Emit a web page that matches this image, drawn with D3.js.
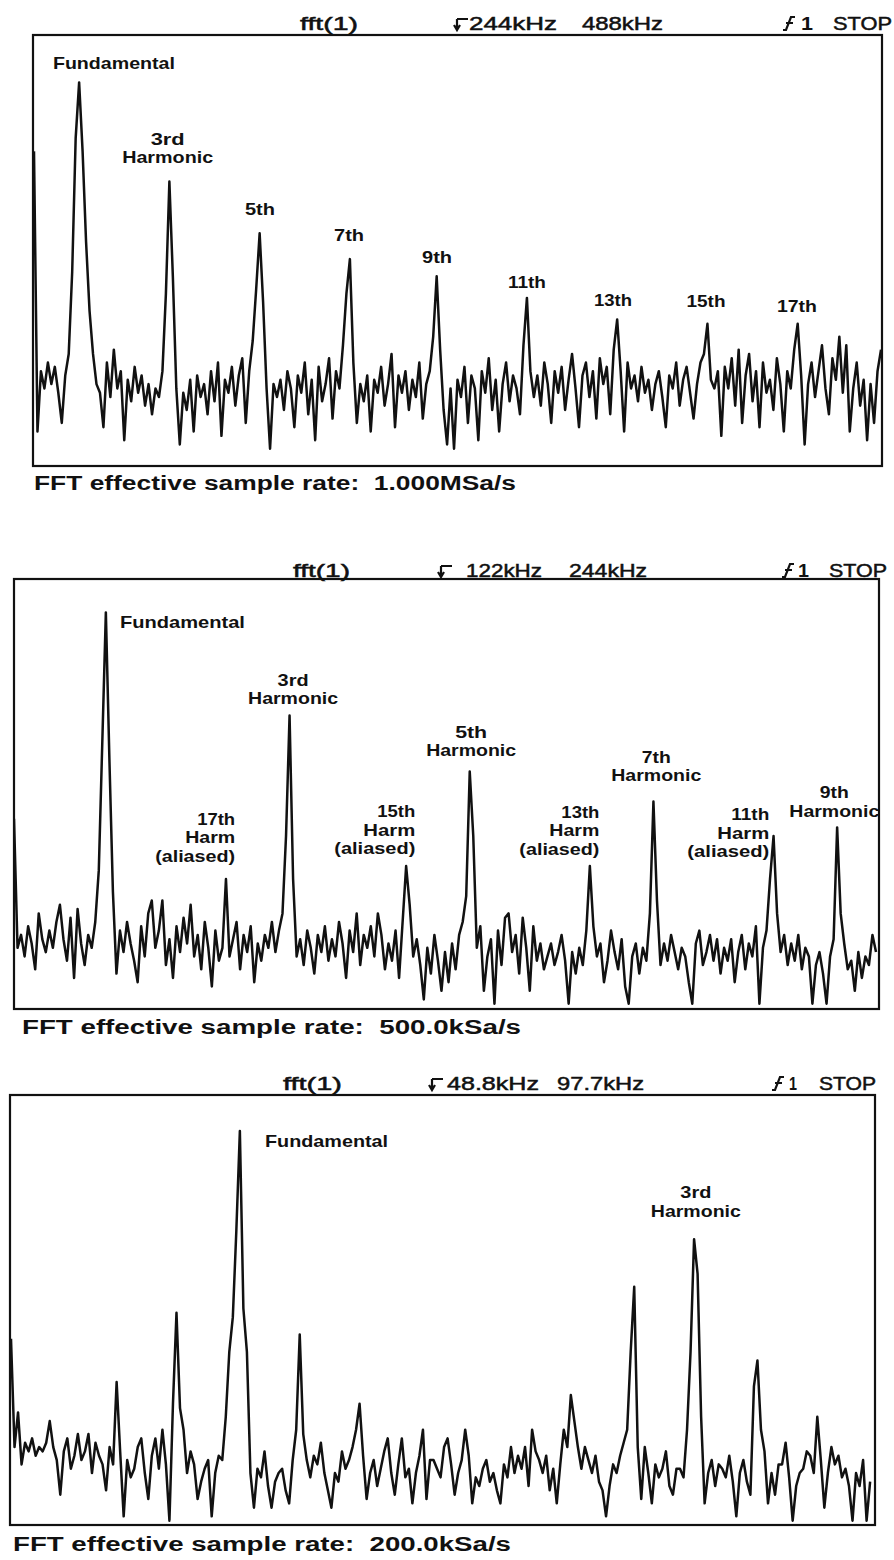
<!DOCTYPE html>
<html><head><meta charset="utf-8">
<script src="https://cdn.jsdelivr.net/npm/d3@7"></script>
<style>
html,body{margin:0;padding:0;background:#fff;}
svg{display:block;}
text{font-family:"Liberation Sans",Arial,Helvetica,sans-serif;fill:#111;}
</style></head><body>
<svg id="chart" width="894" height="1560"></svg>
<script>
// ---------------- DATA ----------------
const spanKHz = [488, 244, 97.7];          // frequency span of each display
const stepKHz = [2, 1, 0.4];               // frequency step between trace points
const centerLabels = ["244kHz", "122kHz", "48.8kHz"];
const spanLabels = ["488kHz", "244kHz", "97.7kHz"];
const fftLabel = "fft(1)";
const trigLabel = "1";
const runLabel = "STOP";
const captionPrefix = "FFT effective sample rate:  ";
const sampleRates = ["1.000MSa/s", "500.0kSa/s", "200.0kSa/s"];

// trace levels (0 = bottom of screen, 100 = top)
const spectrum1 = [
73,8,22,18,24,19,23,17,10,21,
26,45,76,89,73,52,36,26,19,17,
9,24,16,27,18,22,6,20,15,23,
17,21,14,19,12,18,16,22,40,66,
44,18,5,17,13,20,8,21,16,19,
12,22,15,24,7,20,17,23,14,21,
25,10,22,29,41,54,38,18,4,19,
16,20,13,22,18,9,21,17,24,12,
20,6,23,15,19,25,11,22,18,28,
40,48,24,10,19,15,21,8,20,17,
23,14,19,26,9,21,17,22,13,20,
16,24,11,19,22,30,44,27,13,5,
18,4,20,16,23,10,21,18,6,22,
17,25,13,20,8,19,24,15,21,18,
12,28,39,22,16,21,14,24,19,10,
22,17,23,13,20,26,18,9,21,24,
16,22,11,25,19,23,12,27,34,22,
8,24,18,21,15,23,17,20,13,19,
22,16,9,21,18,24,14,20,23,17,
11,19,24,26,33,20,18,22,7,23,
18,25,14,27,10,21,26,15,22,9,
24,17,20,13,25,19,8,22,18,27,
33,21,5,19,24,16,22,28,18,12,
25,20,30,17,28,8,18,24,14,20,
6,19,10,22,27];

const spectrum2 = [
44,14,17,12,19,15,9,22,16,13,
18,14,20,24,16,11,21,7,23,15,
10,17,14,20,32,62,92,58,27,8,
18,13,20,15,11,6,19,12,22,25,
14,18,25,10,16,7,19,13,21,15,
24,12,17,9,20,14,5,18,11,14,
30,12,16,20,9,17,13,19,6,15,
11,17,14,20,13,18,22,40,68,30,
12,16,10,18,14,8,17,13,19,11,
16,12,20,15,7,18,13,22,10,17,
14,19,12,22,17,9,15,11,18,7,
20,33,24,12,16,10,2,14,8,17,
11,4,13,6,15,9,17,20,26,55,
40,14,19,4,12,16,1,18,10,21,
22,13,17,8,21,14,4,19,11,15,
9,12,15,10,13,17,11,1,13,8,
14,10,18,33,19,12,15,6,11,18,
13,9,16,5,1,12,15,8,14,11,
22,48,25,10,15,11,17,13,9,14,
12,6,1,15,18,10,13,17,11,16,
8,14,11,16,6,13,17,9,15,12,
19,1,14,18,30,40,22,13,17,10,
15,11,17,9,14,12,1,10,13,8,
1,12,16,42,22,15,9,11,4,13,
7,12,10,17,13];

const spectrum3 = [
43,18,26,14,19,17,20,16,18,17,
19,24,18,15,7,17,20,13,16,21,
15,17,21,12,19,16,14,8,18,14,
33,17,2,15,11,13,18,20,12,6,
16,20,13,22,14,1,28,49,27,22,
12,17,14,6,10,13,15,2,12,16,
15,25,40,48,68,91,50,40,12,4,
13,11,17,9,4,10,12,13,8,5,
15,22,44,21,15,11,16,14,19,12,
8,4,12,10,17,13,15,18,22,28,
16,6,12,15,9,13,17,20,12,7,
14,20,11,13,5,12,16,22,6,15,
15,13,11,18,20,14,7,12,15,22,
16,5,11,9,13,15,10,12,8,5,
14,11,18,12,16,13,18,9,22,17,
15,12,16,8,13,5,14,22,18,30,
24,18,13,18,15,12,16,10,8,2,
9,14,12,16,19,22,40,55,18,6,
18,12,5,14,11,13,17,9,7,13,
13,11,22,40,66,58,25,5,12,15,
9,14,13,11,16,10,2,12,15,10,
7,32,38,22,17,5,12,7,14,14,
19,11,1,9,12,13,17,16,12,25,
15,4,12,18,14,16,11,13,9,1,
12,9,15,1,10];

const annotText1 = [["Fundamental"],["3rd","Harmonic"],["5th"],["7th"],["9th"],["11th"],["13th"],["15th"],["17th"]];
const annotText2 = [["Fundamental"],["3rd","Harmonic"],["17th","Harm","(aliased)"],["15th","Harm","(aliased)"],["5th","Harmonic"],["13th","Harm","(aliased)"],["7th","Harmonic"],["11th","Harm","(aliased)"],["9th","Harmonic"]];
const annotText3 = [["Fundamental"],["3rd","Harmonic"]];

// ---------------- LAYOUT ----------------
const layout = [
  {box:[33,35,882,466], xr:[34,881], yr:[466,35], hy:30,
   h:{fft:[300,358], arrow:453, center:[469,557], span:[582,663], trig:783, one:[801,813], stop:[833,892]},
   cap:[34,516,490],
   ann:[[10.9,92.1,"start",[122]],[77,74.5,"middle",[34,91]],[130.2,58.2,"middle",[30]],[181.5,52.2,"middle",[30]],
        [232.2,47.1,"middle",[30]],[284,41.3,"middle",[38]],[333.6,37.1,"middle",[38]],[387.2,36.9,"middle",[39]],[439.6,35.7,"middle",[40]]]},
  {box:[14,579,879,1009], xr:[14,876], yr:[1008,578], hy:577,
   h:{fft:[293,350], arrow:437, center:[466,542], span:[569,647], trig:782, one:[798,809], stop:[829,887]},
   cap:[22,521,1034],
   ann:[[30.0,88.4,"start",[125]],[79,74.9,"middle",[31,90]],[62.6,42.6,"end",[38,50,80]],[113.6,44.4,"end",[38,52,81]],
        [129.4,62.8,"middle",[32,90]],[165.7,44.2,"end",[38,50,80]],[181.8,57,"middle",[29,90]],[213.8,43.7,"end",[38,52,82]],[232.2,48.8,"middle",[29,90]]]},
  {box:[10,1095,875,1525], xr:[11,871], yr:[1525,1092], hy:1090,
   h:{fft:[283,342], arrow:428, center:[447,539], span:[557,644], trig:772, one:[789,797], stop:[819,876]},
   cap:[13,511,1551],
   ann:[[28.86,87.3,"start",[123]],[77.8,75.5,"middle",[31,90]]]}
];

const spectra = [spectrum1, spectrum2, spectrum3];
const annots = [annotText1, annotText2, annotText3];
const INK = "#111";
const svg = d3.select("#chart");

function fitText(g, str, x0, x1, y, size, weight){
  return g.append("text").attr("x", x0).attr("y", y)
    .attr("font-size", size).attr("font-weight", weight)
    .attr("textLength", x1 - x0).attr("lengthAdjust", "spacingAndGlyphs")
    .style("white-space", "pre").text(str);
}

layout.forEach((L, p) => {
  const g = svg.append("g");
  const x = d3.scaleLinear().domain([0, spanKHz[p]]).range(L.xr);
  const y = d3.scaleLinear().domain([0, 100]).range(L.yr);
  const [bx0, by0, bx1, by1] = L.box;

  // header
  const hy = L.hy, H = L.h;
  fitText(g, fftLabel, H.fft[0], H.fft[1], hy, 19, "normal").attr("stroke", INK).attr("stroke-width", 0.5);
  // trigger-level arrow glyph
  const a = H.arrow;
  g.append("path").attr("d", `M${a+4},${hy-11}H${a+15}M${a+4},${hy-11}V${hy-1}M${a+1},${hy-5}L${a+4},${hy}L${a+7},${hy-5}`)
    .attr("fill", "none").attr("stroke", INK).attr("stroke-width", 2.2);
  fitText(g, centerLabels[p], H.center[0], H.center[1], hy, 19, "normal").attr("stroke", INK).attr("stroke-width", 0.5);
  fitText(g, spanLabels[p], H.span[0], H.span[1], hy, 19, "normal").attr("stroke", INK).attr("stroke-width", 0.5);
  // trigger-slope glyph
  const t = H.trig;
  g.append("path").attr("d", `M${t},${hy}H${t+3}L${t+8},${hy-13}H${t+12}M${t+3},${hy-7}H${t+10}`)
    .attr("fill", "none").attr("stroke", INK).attr("stroke-width", 2.2);
  fitText(g, trigLabel, H.one[0], H.one[1], hy, 19, "bold");
  fitText(g, runLabel, H.stop[0], H.stop[1], hy, 19, "normal").attr("stroke", INK).attr("stroke-width", 0.5);

  // screen border
  g.append("rect").attr("x", bx0).attr("y", by0).attr("width", bx1 - bx0).attr("height", by1 - by0)
    .attr("fill", "none").attr("stroke", INK).attr("stroke-width", 2.2);

  // trace
  const clipId = "clip" + p;
  svg.append("clipPath").attr("id", clipId).append("rect")
    .attr("x", bx0).attr("y", by0).attr("width", bx1 - bx0).attr("height", by1 - by0);
  const line = d3.line().x((d, i) => x(i * stepKHz[p])).y(d => y(d)).curve(d3.curveLinear);
  g.append("path").datum(spectra[p]).attr("d", line).attr("clip-path", `url(#${clipId})`)
    .attr("fill", "none").attr("stroke", INK).attr("stroke-width", 2.5).attr("stroke-linejoin", "round");

  // annotations
  annots[p].forEach((lines, k) => {
    const [f, v, anchor, widths] = L.ann[k];
    lines.forEach((s, j) => {
      g.append("text").attr("x", x(f)).attr("y", y(v) + j * 18.5)
        .attr("text-anchor", anchor).attr("font-size", 16.5).attr("font-weight", "bold")
        .attr("textLength", widths[j]).attr("lengthAdjust", "spacingAndGlyphs").text(s);
    });
  });

  // caption
  fitText(g, captionPrefix + sampleRates[p], L.cap[0], L.cap[1], L.cap[2], 20, "bold");
});
</script>
</body></html>
